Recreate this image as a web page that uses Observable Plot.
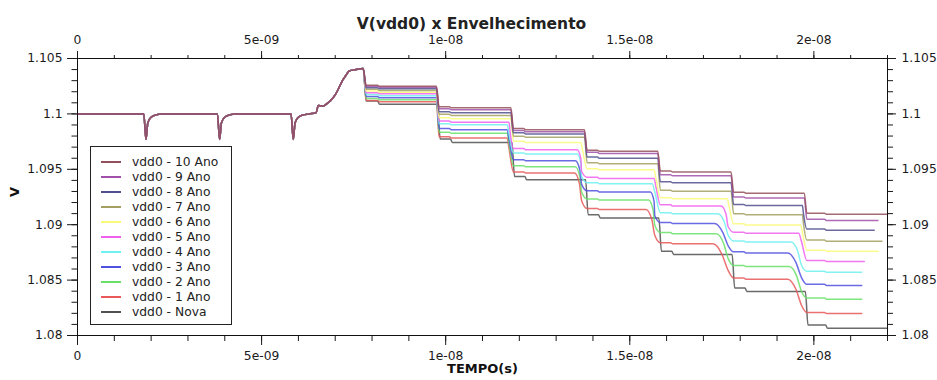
<!DOCTYPE html>
<html>
<head>
<meta charset="utf-8">
<script src="https://cdn.jsdelivr.net/npm/d3@7"></script>
<script src="https://cdn.jsdelivr.net/npm/@observablehq/plot@0.6"></script>
<style>
  body { margin: 0; background: #fff; font-family: "DejaVu Sans", sans-serif; }
  #wrap { position: relative; width: 937px; height: 380px; }
  #legend { position: absolute; left: 90px; top: 146px; width: 142px; height: 179px;
            border: 1px solid #222; background: #fff; box-sizing: border-box; padding-top: 7px; }
  .row { height: 15.1px; display: flex; align-items: center; font-size: 12.3px; color: #222; white-space: nowrap; }
  .sw { width: 20px; height: 2px; margin-left: 10px; margin-right: 11px; flex: none; }
</style>
</head>
<body>
<div id="wrap"><div id="legend"></div></div>
<script>
// ---------- data ----------
const title = "V(vdd0) x Envelhecimento";
const xLabel = "TEMPO(s)";
const yLabel = "V";

const seriesNames = ["vdd0 - 10 Ano","vdd0 - 9 Ano","vdd0 - 8 Ano","vdd0 - 7 Ano","vdd0 - 6 Ano",
  "vdd0 - 5 Ano","vdd0 - 4 Ano","vdd0 - 3 Ano","vdd0 - 2 Ano","vdd0 - 1 Ano","vdd0 - Nova"];
const seriesColors = ["#94505a","#a050a8","#50508f","#a3a062","#fafa7a",
  "#f060f0","#70f0f0","#5050e0","#68e068","#e85858","#505050"];

// common start of all curves (time in ns, volts)
const earlyT = [0, 1.80, 1.86, 1.91, 2.00, 2.12, 2.30, 3.80, 3.86, 3.91, 4.00, 4.12, 4.30,
  5.80, 5.86, 5.91, 6.00, 6.12, 6.30, 6.48, 6.54, 6.66, 6.79, 6.88, 7.02, 7.11, 7.20, 7.29, 7.38, 7.56, 7.76];
const earlyV = [1.1, 1.1, 1.0977, 1.0992, 1.0997, 1.0999, 1.1, 1.1, 1.0977, 1.0992, 1.0997, 1.0999, 1.1,
  1.1, 1.0977, 1.0992, 1.0997, 1.0999, 1.1, 1.1001, 1.10076, 1.1007, 1.10097, 1.10122, 1.10182, 1.10242,
  1.10303, 1.10348, 1.10387, 1.104, 1.1041];

// plateau levels after each drop (P1..P7)
const lv10   = [1.10249, 1.10055, 1.09858, 1.09663, 1.09475, 1.09284, 1.09094];
const lv9    = [1.10240, 1.10037, 1.09840, 1.09643, 1.09441, 1.09241, 1.09039];
const lv8    = [1.10226, 1.10010, 1.09819, 1.09600, 1.09378, 1.09173, 1.08951];
const lv7    = [1.10212, 1.09986, 1.09789, 1.09550, 1.09302, 1.09089, 1.08851];
const lv6    = [1.10196, 1.09956, 1.09743, 1.09496, 1.09234, 1.08998, 1.08760];
const lv5    = [1.10181, 1.09925, 1.09677, 1.09418, 1.09169, 1.08922, 1.08667];
const lv4    = [1.10164, 1.09901, 1.09638, 1.09369, 1.09098, 1.08844, 1.08570];
const lv3    = [1.10146, 1.09858, 1.09577, 1.09296, 1.09010, 1.08745, 1.08452];
const lv2    = [1.10128, 1.09825, 1.09523, 1.09223, 1.08919, 1.08622, 1.08328];
const lv1    = [1.10110, 1.09783, 1.09466, 1.09137, 1.08827, 1.08508, 1.08198];
const lvNova = [1.10087, 1.09743, 1.09405, 1.09060, 1.08731, 1.08398, 1.08065];
const levels = [lv10, lv9, lv8, lv7, lv6, lv5, lv4, lv3, lv2, lv1, lvNova];

// drop instants (ns) and how early each curve starts bending before a drop (ns)
const dropTimes = [9.75, 11.77, 13.77, 15.76, 17.75, 19.74];
const leads = [
  [0,0,0,0,0,0], [0,0,0,0,0,0], [0,0,0,0,0,0.05], [0,0,0,0,0,0.05],
  [0,0,0.1,0.1,0.1,0.1], [0,0.05,0.2,0.1,0.27,0.15], [0,0.1,0.2,0.15,0.36,0.36],
  [0,0.1,0.25,0.2,0.45,0.45], [0,0.1,0.25,0.25,0.4,0.41], [0,0.1,0.27,0.32,0.49,0.45],
  [0,0,0,0,0,0]];
const kneeFrac = [0.3, 0.75];           // share of a drop reached mid-bend and just before the drop
const dropDelay = [0,0,0,0,0,0,0,0,0,0,0.03];
const subStep = [0.0001,0.0001,0.0001,0.0001,0.0001,0.0001,0.0001,0.0001,0.0001,0.0001,0.0003];
const endT = [22.0, 21.74, 21.64, 21.85, 21.75, 21.37, 21.3, 21.3, 21.3, 21.3, 22.0];

const xTicks = [0, 5e-9, 1e-8, 1.5e-8, 2e-8];
const xTickLabels = ["0", "5e-09", "1e-08", "1.5e-08", "2e-08"];
const yTicks = [1.08, 1.085, 1.09, 1.095, 1.1, 1.105];
const yTickLabels = ["1.08", "1.085", "1.09", "1.095", "1.1", "1.105"];

// ---------- build table ----------
function buildPoints(idx) {
  const L = levels[idx], s = subStep[idx], pts = [];
  earlyT.forEach((t, i) => pts.push([t, earlyV[i]]));
  pts.push([7.84, L[0] + s], [8.15, L[0] + s], [8.2, L[0]]);
  dropTimes.forEach((d0, k) => {
    const D = d0 + dropDelay[idx], Lp = L[k], Ln = L[k + 1], dl = Lp - Ln, a = leads[idx][k];
    if (a >= 0.2) pts.push([D - a, Lp], [D - a / 2, Lp - kneeFrac[0] * dl], [D - 0.08, Lp - kneeFrac[1] * dl]);
    else if (a > 0) pts.push([D - a, Lp], [D - a / 2, Lp - kneeFrac[0] * dl]);
    else pts.push([D, Lp]);
    const st = k === dropTimes.length - 1 ? 0.55 : 0.35;
    pts.push([D + 0.07, Ln + s], [D + st, Ln + s], [D + st + 0.05, Ln]);
  });
  pts.push([endT[idx], L[6]]);
  return pts.map(([t, v]) => ({t: t * 1e-9, v, series: seriesNames[idx]}));
}
const rows = [];
for (let i = seriesNames.length - 1; i >= 0; i--) rows.push(...buildPoints(i));

const xLab = new Map(xTicks.map((d, i) => [d, xTickLabels[i]]));
const yLab = new Map(yTicks.map((d, i) => [d, yTickLabels[i]]));
const minorX = d3.range(0, 23).map(d => d * 1e-9);
const minorY = d3.range(80, 106).map(d => 1 + d / 1000);

const chart = Plot.plot({
  width: 937, height: 380,
  marginLeft: 77, marginRight: 50, marginTop: 58, marginBottom: 45,
  x: {domain: [0, 2.2e-8]},
  y: {domain: [1.08, 1.105]},
  color: {domain: seriesNames, range: seriesColors},
  style: {fontFamily: "DejaVu Sans", fontSize: "12.3px", color: "#1a1a1a", background: "white"},
  marks: [
    Plot.axisX(minorX, {anchor: "top", tickSize: 4, text: null, label: null}),
    Plot.axisX(xTicks, {anchor: "top", tickSize: 8, tickPadding: 7, tickFormat: d => xLab.get(d), label: null}),
    Plot.axisX(minorX, {anchor: "bottom", tickSize: 6, text: null, label: null}),
    Plot.axisX(xTicks, {anchor: "bottom", tickSize: 10, tickPadding: 6, tickFormat: d => xLab.get(d), label: null}),
    Plot.axisY(minorY, {anchor: "left", tickSize: 5.5, text: null, label: null}),
    Plot.axisY(yTicks, {anchor: "left", tickSize: 10, tickPadding: 5, tickFormat: d => yLab.get(d), label: null}),
    Plot.axisY(minorY, {anchor: "right", tickSize: 5, text: null, label: null}),
    Plot.axisY(yTicks, {anchor: "right", tickSize: 8, tickPadding: 6, tickFormat: d => yLab.get(d), label: null}),
    Plot.line(rows, {x: "t", y: "v", z: "series", stroke: "series", curve: "monotone-x", strokeWidth: 1.5, strokeOpacity: 0.85}),
    Plot.frame({stroke: "#111"}),
    Plot.text([title], {text: d => d, frameAnchor: "top", dx: -11, dy: -41, fontWeight: "bold", fontSize: 15.5, fill: "#222"}),
    Plot.text([xLabel], {text: d => d, frameAnchor: "bottom", dy: 37, fontWeight: "bold", fontSize: 13, fill: "#111"}),
    Plot.text([yLabel], {text: d => d, frameAnchor: "left", dx: -63, rotate: -90, fontWeight: "bold", fontSize: 13, fill: "#111"})
  ]
});
document.getElementById("wrap").prepend(chart);

const legend = document.getElementById("legend");
seriesNames.forEach((n, i) => {
  const r = document.createElement("div");
  r.className = "row";
  r.innerHTML = `<span class="sw" style="background:${seriesColors[i]}"></span><span>${n}</span>`;
  legend.appendChild(r);
});
</script>
</body>
</html>
